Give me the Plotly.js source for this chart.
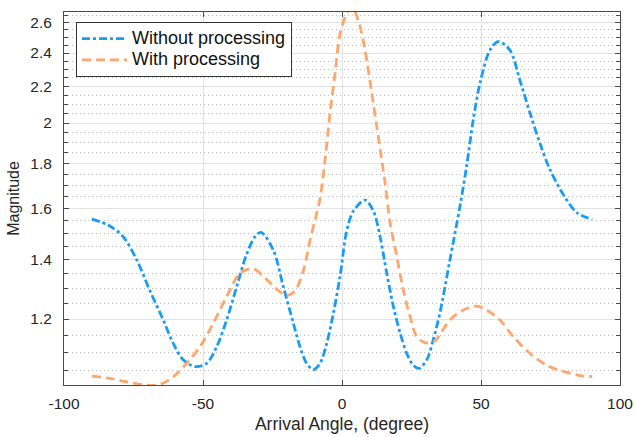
<!DOCTYPE html>
<html>
<head>
<meta charset="utf-8">
<script src="https://cdn.plot.ly/plotly-3.0.1.min.js"></script>
<style>html,body{margin:0;padding:0;background:#fff;}#chart{width:634px;height:437px;}</style>
</head>
<body>
<div id="chart"></div>
<script>
// Series: Without processing
const angleWithout = [-90, -84, -78.7, -73.8, -69.1, -64.3, -60.7, -57.1, -52.9, -48.7, -45.1, -41.5, -37.9, -34.3, -31.3, -29.1,
  -24.7, -21.1, -17.5, -15.1, -12.7, -10.3, -7.9, -5.5, -3.1, -0.7, 1.7, 4.1, 8.3, 11.3, 13.7, 16.1, 18.5, 20.9, 23.3, 25.6, 27.7,
  30.5, 32.8, 35.3, 38.8, 42.4, 44.8, 47.2, 49.6, 53.2, 56.2, 60.4, 64, 67.6, 71.2, 74.8, 79.6, 84.5, 90];
const magWithout = [1.557, 1.532, 1.487, 1.399, 1.292, 1.197, 1.126, 1.079, 1.060, 1.069, 1.116, 1.197, 1.305, 1.421, 1.487, 1.504,
  1.436, 1.305, 1.187, 1.116, 1.069, 1.052, 1.069, 1.126, 1.218, 1.341, 1.511, 1.59, 1.636, 1.59, 1.487, 1.352, 1.239, 1.157, 1.097, 1.064, 1.055,
  1.079, 1.136, 1.222, 1.399, 1.608, 1.785, 2.016, 2.216, 2.418, 2.473, 2.418, 2.235, 2.054, 1.897, 1.772, 1.66, 1.583, 1.556];

// Series: With processing
const angleWith = [-90, -83.5, -77.5, -70.3, -65.5, -60.7, -55.9, -51.1, -46.3, -41.5, -36.7, -32, -27.1, -23.5, -19.9, -16.9, -13.9,
  -11.5, -9.7, -7.9, -6.1, -4.3, -2.5, -0.7, 1.7, 3.5, 5.9, 8.3, 10.7, 12.5, 14.3, 15.5, 17.3, 19.7, 22.1, 24.5, 26.9, 29.9, 32.9,
  34.3, 38.8, 43.6, 48.5, 52.1, 56.8, 61.6, 67.6, 73.6, 79.6, 86.8, 90];
const magWith = [1.034, 1.028, 1.019, 1.010, 1.012, 1.032, 1.069, 1.116, 1.187, 1.272, 1.352, 1.368, 1.33, 1.297, 1.276, 1.292, 1.361,
  1.473, 1.554, 1.642, 1.816, 2.054, 2.275, 2.524, 2.662, 2.71, 2.61, 2.418, 2.163, 1.983, 1.816, 1.71, 1.542, 1.413, 1.292, 1.207, 1.146, 1.128, 1.131,
  1.141, 1.197, 1.228, 1.241, 1.228, 1.197, 1.146, 1.097, 1.064, 1.047, 1.034, 1.033];

// Tick labels
const xTickVals = [-100, -50, 0, 50, 100];
const xTickText = ['-100', '-50', '0', '50', '100'];
const yTickVals = [1.2, 1.4, 1.6, 1.8, 2, 2.2, 2.4, 2.6];
const yTickText = ['1.2', '1.4', '1.6', '1.8', '2', '2.2', '2.4', '2.6'];
const yMinorVals = [1.05, 1.1, 1.15, 1.25, 1.3, 1.35, 1.45, 1.5, 1.55, 1.65, 1.7, 1.75, 1.85, 1.9, 1.95,
  2.05, 2.1, 2.15, 2.25, 2.3, 2.35, 2.45, 2.5, 2.55, 2.65];
const yRange = [1.0104, 2.671];
const xRange = [-100, 100];
const seriesNames = ['Without processing', 'With processing'];

const FONT = '"Liberation Sans", Arial, Helvetica, sans-serif';
const AX = '#4a4a4a';
const legendName = (s) => '<span style="font-size:18px">' + s + '</span>';

const traces = [
  {x: angleWithout, y: magWithout, type: 'scatter', mode: 'lines', name: legendName(seriesNames[0]),
   line: {color: '#1a9bf5', width: 2.8, dash: '8px,3px,3px,3px', shape: 'spline', smoothing: 0.9}},
  {x: angleWith, y: magWith, type: 'scatter', mode: 'lines', name: legendName(seriesNames[1]),
   line: {color: '#ffa66d', width: 2.8, dash: '9px,5px', shape: 'spline', smoothing: 0.9}}
];

const layout = {
  width: 634, height: 437,
  margin: {l: 64, r: 14, t: 12, b: 52, pad: 0},
  paper_bgcolor: '#fff', plot_bgcolor: '#fff',
  font: {family: FONT, size: 15.5, color: '#262626'},
  showlegend: true,
  legend: {x: 0.0216, y: 0.973, xanchor: 'left', yanchor: 'top', bgcolor: '#fff', bordercolor: '#333', borderwidth: 1,
    font: {family: FONT, size: 14, color: '#111'}, itemwidth: 45, tracegroupgap: 0},
  xaxis: {
    range: xRange, tickmode: 'array', tickvals: xTickVals, ticktext: xTickText,
    ticks: 'inside', ticklen: 5, tickcolor: AX, showline: true, linecolor: AX, linewidth: 1, mirror: 'allticks',
    showgrid: true, gridcolor: '#e2e2e2', gridwidth: 1, zeroline: false, ticklabelstandoff: 4,
    tickfont: {family: FONT, size: 15.5, color: '#262626'},
    title: {text: 'Arrival Angle, (degree)', font: {family: FONT, size: 17.5, color: '#262626'}, standoff: 7}
  },
  yaxis: {
    type: 'log', range: [Math.log10(yRange[0]), Math.log10(yRange[1])],
    tickmode: 'array', tickvals: yTickVals, ticktext: yTickText,
    ticks: 'inside', ticklen: 5, tickcolor: AX, showline: true, linecolor: AX, linewidth: 1, mirror: 'allticks',
    showgrid: true, gridcolor: '#e2e2e2', gridwidth: 1, zeroline: false, ticklabelstandoff: 8,
    tickfont: {family: FONT, size: 15.5, color: '#262626'},
    minor: {tickmode: 'array', tickvals: yMinorVals, ticks: 'inside', ticklen: 4, tickcolor: AX,
      showgrid: true, gridcolor: '#bdbdbd', griddash: '1px,3px', gridwidth: 1},
    title: {text: 'Magnitude', font: {family: FONT, size: 16, color: '#262626'}, standoff: 6}
  }
};

Plotly.newPlot('chart', traces, layout, {displayModeBar: false, staticPlot: true});
</script>
</body>
</html>
